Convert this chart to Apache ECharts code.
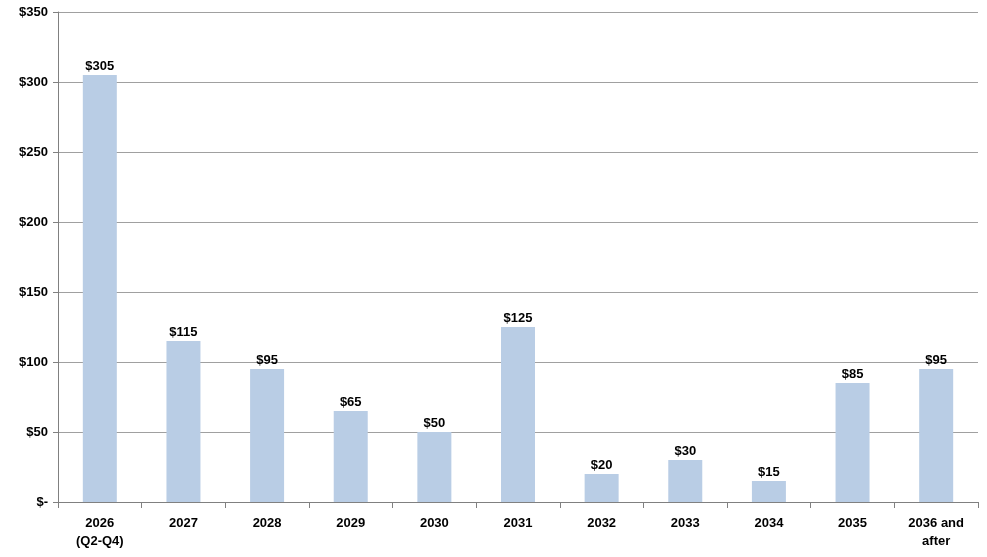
<!DOCTYPE html>
<html><head><meta charset="utf-8">
<script src="https://cdn.jsdelivr.net/npm/echarts@6/dist/echarts.min.js"></script>
<style>html,body{margin:0;padding:0;background:#fff}#c{width:987px;height:557px}</style>
</head><body><div id="c"></div>
<script>
var categories = ['2026\n(Q2-Q4)','2027','2028','2029','2030','2031','2032','2033','2034','2035','2036 and\nafter'];
var values = [305,115,95,65,50,125,20,30,15,85,95];
var chart = echarts.init(document.getElementById('c'));
var font = 'Liberation Sans, Arial, sans-serif';
chart.setOption({
  animation:false,
  grid:{left:58,right:9,top:12,bottom:55},
  xAxis:{type:'category',data:categories,
    axisLine:{lineStyle:{color:'#808080'}},
    axisTick:{show:true,length:6,lineStyle:{color:'#808080'},alignWithLabel:false},
    axisLabel:{color:'#000',fontWeight:'bold',fontSize:13,fontFamily:font,margin:12,lineHeight:18,interval:0}},
  yAxis:{type:'value',min:0,max:350,interval:50,
    axisLine:{show:true,lineStyle:{color:'#808080'}},
    axisTick:{show:true,length:5,lineStyle:{color:'#808080'}},
    splitLine:{lineStyle:{color:'#a0a0a0'}},
    axisLabel:{color:'#000',fontWeight:'bold',fontSize:13,fontFamily:font,margin:10,
      formatter:function(v){return v===0?'$-':'$'+v;}}},
  series:[{type:'bar',data:values,barWidth:34,itemStyle:{color:'#b9cde5'},
    label:{show:true,position:'top',distance:2,color:'#000',fontWeight:'bold',fontSize:13,fontFamily:font,
      formatter:function(p){return '$'+p.value;}}}]
});
</script></body></html>
